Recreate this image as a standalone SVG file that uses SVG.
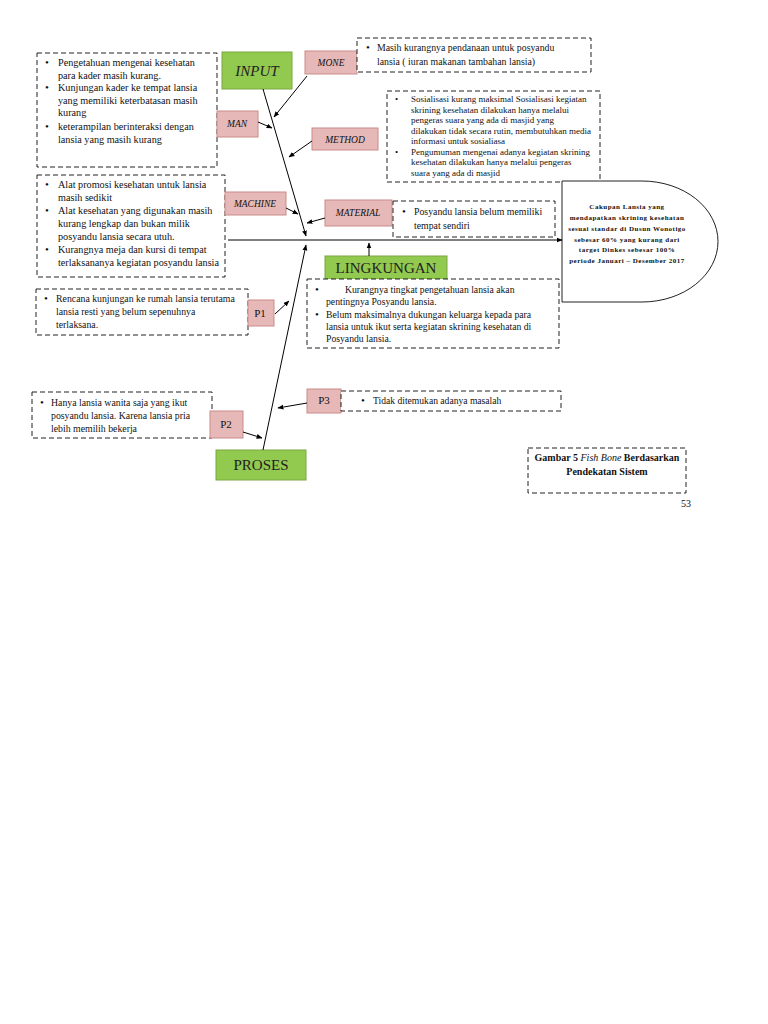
<svg xmlns="http://www.w3.org/2000/svg" width="768" height="1024" viewBox="0 0 768 1024">
<defs>
<marker id="ah" viewBox="0 0 10 10" refX="9" refY="5" markerWidth="6" markerHeight="6" orient="auto-start-reverse"><path d="M0,1 L10,5 L0,9 z" fill="#000"/></marker>
<style>
.dash{fill:#fff;stroke:#222;stroke-width:1;stroke-dasharray:5,3}
.pink{fill:#e6b9b8;stroke:#c98b8a;stroke-width:1}
.green{fill:#92c94f;stroke:#7aa841;stroke-width:1}
.t{font-family:"Liberation Serif",serif;fill:#111}
.b{font-size:11px}
.lab{font-family:"Liberation Serif",serif;font-style:italic;font-size:9.5px;fill:#111}
.big{font-family:"Liberation Serif",serif;font-size:15px;fill:#222}
.c{stroke:#000;stroke-width:1;fill:none;marker-end:url(#ah)}
</style>
</defs>
<rect width="768" height="1024" fill="#fff"/>

<g id="input">
<rect class="green" x="222" y="52" width="70" height="37"/>
<text class="big" x="257" y="76" text-anchor="middle" font-style="italic" font-size="17">INPUT</text>
</g>

<g id="man-box">
<rect class="dash" x="37" y="53" width="180" height="114"/>
<text class="t" font-size="10.2"><tspan class="b" x="45" y="66">•</tspan><tspan x="58" y="66">Pengetahuan mengenai kesehatan</tspan><tspan x="58" y="79">para kader masih kurang.</tspan><tspan class="b" x="45" y="91">•</tspan><tspan x="58" y="91">Kunjungan kader ke tempat lansia</tspan><tspan x="58" y="104">yang memiliki keterbatasan masih</tspan><tspan x="58" y="116">kurang</tspan><tspan class="b" x="45" y="130">•</tspan><tspan x="58" y="130">keterampilan berinteraksi dengan</tspan><tspan x="58" y="143">lansia yang masih kurang</tspan></text>
</g>

<g id="man"><rect class="pink" x="217" y="111" width="41" height="26"/><text class="lab" x="237" y="127" text-anchor="middle">MAN</text></g>

<g id="mone"><rect class="pink" x="305" y="51" width="52" height="23"/><text class="lab" x="331" y="66" text-anchor="middle">MONE</text></g>

<g id="mone-box">
<rect class="dash" x="357" y="38" width="234" height="34"/>
<text class="t" font-size="9.8"><tspan class="b" x="366" y="51">•</tspan><tspan x="377" y="51">Masih kurangnya pendanaan untuk posyandu</tspan><tspan x="377" y="65">lansia ( iuran makanan tambahan lansia)</tspan></text>
</g>

<g id="method"><rect class="pink" x="312" y="128" width="66" height="22"/><text class="lab" x="345" y="143" text-anchor="middle">METHOD</text></g>

<g id="method-box">
<rect class="dash" x="387" y="91" width="213" height="91"/>
<text class="t" font-size="9"><tspan x="395" y="102">•</tspan><tspan x="411" y="102">Sosialisasi kurang maksimal Sosialisasi kegiatan</tspan><tspan x="411" y="112.5">skrining kesehatan dilakukan hanya melalui</tspan><tspan x="411" y="123">pengeras suara yang ada di masjid yang</tspan><tspan x="411" y="133.5">dilakukan tidak secara rutin, membutuhkan media</tspan><tspan x="411" y="144">informasi untuk sosialiasa</tspan><tspan x="395" y="154.5">•</tspan><tspan x="411" y="154.5">Pengumuman mengenai adanya kegiatan skrining</tspan><tspan x="411" y="165">kesehatan dilakukan hanya melalui pengeras</tspan><tspan x="411" y="175.5">suara yang ada di masjid</tspan></text>
</g>

<g id="machine-box">
<rect class="dash" x="37" y="175" width="188" height="102"/>
<text class="t" font-size="10.2"><tspan class="b" x="45" y="188">•</tspan><tspan x="58" y="188">Alat promosi kesehatan untuk lansia</tspan><tspan x="58" y="201">masih sedikit</tspan><tspan class="b" x="45" y="214">•</tspan><tspan x="58" y="214">Alat kesehatan yang digunakan masih</tspan><tspan x="58" y="227">kurang lengkap dan bukan milik</tspan><tspan x="58" y="240">posyandu lansia secara utuh.</tspan><tspan class="b" x="45" y="253">•</tspan><tspan x="58" y="253">Kurangnya meja dan kursi di tempat</tspan><tspan x="58" y="266">terlaksananya kegiatan posyandu lansia</tspan></text>
</g>

<g id="machine"><rect class="pink" x="225" y="192" width="61" height="23"/><text class="lab" x="255" y="207" text-anchor="middle">MACHINE</text></g>

<g id="material"><rect class="pink" x="325" y="200" width="67" height="26"/><text class="lab" x="358" y="216" text-anchor="middle">MATERIAL</text></g>

<g id="material-box">
<rect class="dash" x="393" y="201" width="162" height="36"/>
<text class="t" font-size="9.8"><tspan class="b" x="402" y="215">•</tspan><tspan x="414" y="215">Posyandu lansia belum memiliki</tspan><tspan x="414" y="229">tempat sendiri</tspan></text>
</g>

<g id="goal">
<path d="M562,181 H642 A76,60.5 0 0 1 642,302 H562 Z" fill="#fff" stroke="#222" stroke-width="1"/>
<text class="t" font-size="7" font-weight="bold" letter-spacing="0.5" text-anchor="middle"><tspan x="627" y="209">Cakupan Lansia yang</tspan><tspan x="627" y="220">mendapatkan skrining kesehatan</tspan><tspan x="627" y="231">sesuai standar di Dusun Wonotigo</tspan><tspan x="627" y="242">sebesar 60% yang kurang dari</tspan><tspan x="627" y="252">target Dinkes sebesar 100%</tspan><tspan x="627" y="263">periode Januari – Desember 2017</tspan></text>
</g>

<g id="lingkungan"><rect class="green" x="325" y="256" width="122" height="23"/><text class="big" x="386" y="273" text-anchor="middle" font-size="14">LINGKUNGAN</text></g>

<g id="lingkungan-box">
<rect class="dash" x="307" y="279" width="252" height="69"/>
<text class="t" font-size="9.7"><tspan class="b" x="315" y="293">•</tspan><tspan x="345" y="293">Kurangnya tingkat pengetahuan lansia akan</tspan><tspan x="326" y="305">pentingnya Posyandu lansia.</tspan><tspan class="b" x="315" y="318">•</tspan><tspan x="326" y="318">Belum maksimalnya dukungan keluarga kepada para</tspan><tspan x="326" y="330">lansia untuk ikut serta kegiatan skrining kesehatan di</tspan><tspan x="326" y="342">Posyandu lansia.</tspan></text>
</g>

<g id="p1-box">
<rect class="dash" x="36" y="289" width="212" height="46"/>
<text class="t" font-size="9.8"><tspan class="b" x="44" y="302">•</tspan><tspan x="56" y="302">Rencana kunjungan ke rumah lansia terutama</tspan><tspan x="56" y="315">lansia resti yang belum sepenuhnya</tspan><tspan x="56" y="328">terlaksana.</tspan></text>
</g>

<g id="p1"><rect class="pink" x="248" y="300" width="26" height="26"/><text class="t" font-size="11" x="260" y="317" text-anchor="middle">P1</text></g>

<g id="p2-box">
<rect class="dash" x="32" y="392" width="180" height="46"/>
<text class="t" font-size="9.8"><tspan class="b" x="40" y="406">•</tspan><tspan x="51" y="406">Hanya lansia wanita saja yang ikut</tspan><tspan x="51" y="419">posyandu lansia. Karena lansia pria</tspan><tspan x="51" y="432">lebih memilih bekerja</tspan></text>
</g>

<g id="p2"><rect class="pink" x="210" y="411" width="33" height="27"/><text class="t" font-size="11" x="226" y="428" text-anchor="middle">P2</text></g>

<g id="p3"><rect class="pink" x="307" y="389" width="34" height="24"/><text class="t" font-size="11" x="324" y="404" text-anchor="middle">P3</text></g>

<g id="p3-box">
<rect class="dash" x="341" y="391" width="220" height="20"/>
<text class="t" font-size="9.6"><tspan class="b" x="361" y="404">•</tspan><tspan x="373" y="404">Tidak ditemukan adanya masalah</tspan></text>
</g>

<g id="proses"><rect class="green" x="216" y="450" width="90" height="30"/><text class="big" x="261" y="470" text-anchor="middle">PROSES</text></g>

<g id="caption">
<rect class="dash" x="528" y="448" width="158" height="45"/>
<text class="t" font-size="10" text-anchor="middle"><tspan x="607" y="461" font-weight="bold">Gambar 5 </tspan><tspan font-style="italic">Fish Bone</tspan><tspan font-weight="bold"> Berdasarkan</tspan><tspan x="607" y="475" font-weight="bold">Pendekatan Sistem</tspan></text>
<text class="t" font-size="10" x="686" y="507" text-anchor="middle">53</text>
</g>

<g id="connectors">
<line class="c" x1="228" y1="240" x2="562" y2="240"/>
<line class="c" x1="263" y1="89" x2="306" y2="236"/>
<line class="c" x1="263" y1="450" x2="306" y2="245"/>
<line class="c" x1="307" y1="76" x2="274" y2="117"/>
<line class="c" x1="258" y1="122" x2="272" y2="128"/>
<line class="c" x1="312" y1="141" x2="289" y2="157"/>
<line class="c" x1="286" y1="208" x2="298" y2="214"/>
<line class="c" x1="325" y1="218" x2="307" y2="223"/>
<line class="c" x1="369" y1="256" x2="369" y2="243"/>
<line class="c" x1="275" y1="314" x2="289" y2="301"/>
<line class="c" x1="243" y1="432" x2="262" y2="438"/>
<line class="c" x1="307" y1="403" x2="278" y2="408"/>
</g>
</svg>
